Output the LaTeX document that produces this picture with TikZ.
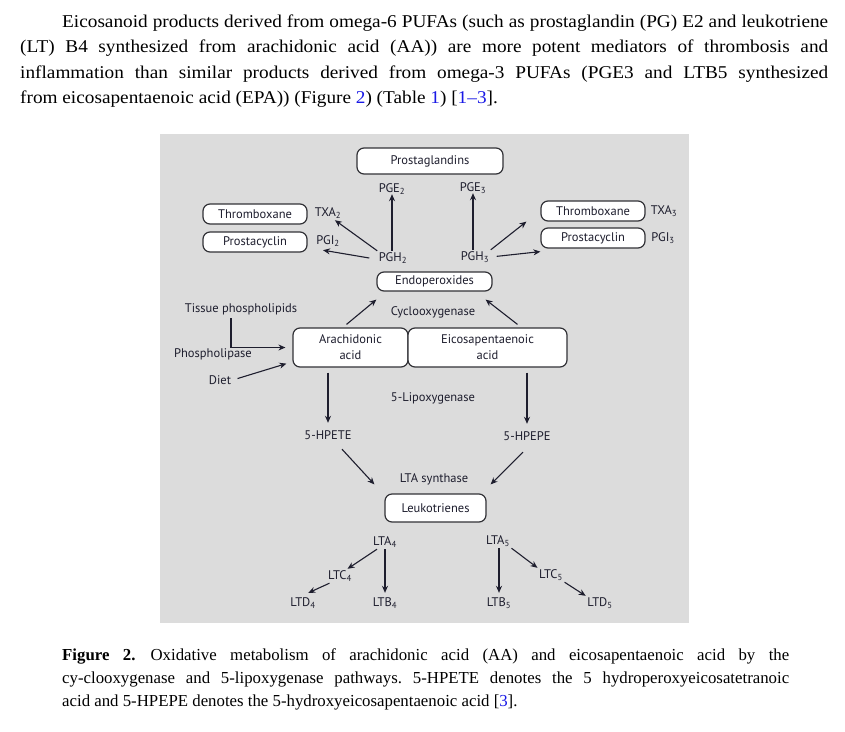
\documentclass[tikz,border=0pt]{standalone}
\usepackage{fontspec}
\setmainfont{Liberation Serif}
\newfontfamily\figfont{PT Sans}
\usepackage{tikz}
\usetikzlibrary{calc, arrows.meta}
\definecolor{panel}{RGB}{220, 220, 220}
\definecolor{ink}{RGB}{30, 30, 46}
\definecolor{frame}{RGB}{50, 50, 55}
\definecolor{link}{RGB}{25, 25, 230}
\newcommand{\lsub}[1]{\textsubscript{#1}}
\newcommand{\figsize}{\figfont\fontsize{12.5}{16}\selectfont}
\frenchspacing

\tikzset{
  pathway/.style={draw=frame, fill=white, rounded corners=7pt, line width=1.2pt,
    text=ink, font=\figsize, inner sep=0pt, align=center},
  lbl/.style={text=ink, font=\figsize, inner sep=1.5pt},
  flow/.style={->, >={Stealth[length=7pt, width=6pt]}, line width=1.1pt, draw=ink},
  prose/.style={anchor=north west, inner sep=0pt, align=justify}
}

\begin{document}
\begin{tikzpicture}[x=1pt, y=-1pt]

  \useasboundingbox (0, 0) rectangle (845, 731);
  \fill[white] (0, 0) rectangle (845, 731);

  % text above the figure
  \node[prose, text width=808, font=\fontsize{18}{25.5}\selectfont\addfontfeatures{FakeStretch=1.07}] (para) at (20, 14.5)
    {\hspace*{42pt}Eicosanoid products derived from omega-6 PUFAs (such as prostaglandin (PG) E2 and leukotriene\linebreak
     (LT) B4 synthesized from arachidonic acid (AA)) are more potent mediators of thrombosis and\linebreak
     inflammation than similar products derived from omega-3 PUFAs (PGE3 and LTB5 synthesized\linebreak
     from eicosapentaenoic acid (EPA)) (Figure~\textcolor{link}{2}) (Table~\textcolor{link}{1}) [\textcolor{link}{1--3}].};

  \fill[panel] (160, 134) rectangle (689, 623);

  % cyclooxygenase side
  \node[pathway, minimum width=146, minimum height=26] (prosta) at (430, 161) {Prostaglandins};
  \node[lbl] (pge2) at (392, 189) {PGE\lsub{2}};
  \node[lbl] (pge3) at (473, 188) {PGE\lsub{3}};

  \node[pathway, minimum width=104, minimum height=20] (thromboA) at (255, 214) {Thromboxane};
  \node[pathway, minimum width=104, minimum height=20] (prostacA) at (255, 242) {Prostacyclin};
  \node[lbl] (txa2) at (328, 213) {TXA\lsub{2}};
  \node[lbl] (pgi2) at (328, 241) {PGI\lsub{2}};
  \node[lbl] (pgh2) at (393, 258) {PGH\lsub{2}};

  \node[pathway, minimum width=104, minimum height=20] (thromboB) at (593, 211) {Thromboxane};
  \node[pathway, minimum width=104, minimum height=20] (prostacB) at (593, 238) {Prostacyclin};
  \node[lbl] (txa3) at (664, 211) {TXA\lsub{3}};
  \node[lbl] (pgi3) at (663, 238) {PGI\lsub{3}};
  \node[lbl] (pgh3) at (475, 257) {PGH\lsub{3}};

  \node[pathway, minimum width=115, minimum height=19] (endo) at (434.5, 281.5) {Endoperoxides};
  \node[lbl] (cox) at (433, 312) {Cyclooxygenase};

  % the two fatty acids
  \node[pathway, minimum width=115, minimum height=39] (aa) at (350.5, 347.5) {Arachidonic\\acid};
  \node[pathway, minimum width=159, minimum height=39] (epa) at (487.5, 347.5) {Eicosapentaenoic\\acid};
  \node[lbl] (tissue) at (241, 309) {Tissue phospholipids};
  \node[lbl] (plase) at (213, 354) {Phospholipase};
  \node[lbl] (diet) at (220, 380) {Diet};

  % lipoxygenase side
  \node[lbl] (lox) at (433, 398) {5-Lipoxygenase};
  \node[lbl] (hpete) at (328, 435) {5-HPETE};
  \node[lbl] (hpepe) at (527, 436) {5-HPEPE};
  \node[lbl] (ltas) at (434, 479) {LTA synthase};
  \node[pathway, minimum width=101, minimum height=28] (leuko) at (435.5, 508) {Leukotrienes};

  \node[lbl] (lta4) at (385, 542) {LTA\lsub{4}};
  \node[lbl] (ltc4) at (340, 576) {LTC\lsub{4}};
  \node[lbl] (ltd4) at (303, 603) {LTD\lsub{4}};
  \node[lbl] (ltb4) at (385, 603) {LTB\lsub{4}};
  \node[lbl] (lta5) at (498, 541) {LTA\lsub{5}};
  \node[lbl] (ltb5) at (499, 603) {LTB\lsub{5}};
  \node[lbl] (ltc5) at (551, 575) {LTC\lsub{5}};
  \node[lbl] (ltd5) at (600, 603) {LTD\lsub{5}};

  % arrows
  \draw[flow] (pge2.south |- pgh2.north) -- ([yshift=2pt]pge2.south);
  \draw[flow] (pgh2.north west) -- ([xshift=-8pt]txa2.south east);
  \draw[flow] ([xshift=-8pt]pgh2.west) -- ([xshift=-5pt, yshift=-2pt]pgi2.south);
  \draw[flow] (pge3.south |- pgh3.north) -- ([yshift=2pt]pge3.south);
  \draw[flow] (pgh3.north east) -- ([xshift=-14pt]thromboB.south west);
  \draw[flow, shorten <=6pt] (pgh3.east) -- ([yshift=-3pt]prostacB.south west);

  \draw[flow] ([xshift=-4pt, yshift=3pt]aa.north) -- ([yshift=-8pt]endo.south west);
  \draw[flow] ([xshift=30pt, yshift=3pt]epa.north) -- ([xshift=-7pt, yshift=-8pt]endo.south east);
  \draw[flow] ([xshift=-10pt, yshift=-2pt]tissue.south) |- ([xshift=-7pt]aa.west);
  \draw[flow, shorten <=5pt] (diet.east) -- ([xshift=-6pt, yshift=4pt]aa.south west);

  \draw[flow] (hpete.north |- aa.south) ++(0, 5) -- ([yshift=6pt]hpete.north);
  \draw[flow] (hpepe.north |- epa.south) ++(0, 5) -- ([yshift=6pt]hpepe.north);
  \draw[flow] ([xshift=14pt, yshift=-8pt]hpete.south) -- ([xshift=-10pt, yshift=9pt]leuko.north west);
  \draw[flow] ([xshift=-4pt, yshift=-10pt]hpepe.south) -- ([xshift=4pt, yshift=9pt]leuko.north east);

  \draw[flow] ([xshift=-8pt]lta4.south) -- ([xshift=-6pt]ltc4.north east);
  \draw[flow] ([xshift=3pt]ltc4.south west) -- ([xshift=-9pt, yshift=3pt]ltd4.north east);
  \draw[flow] (ltb4.north |- lta4.south) -- ([yshift=3pt]ltb4.north);
  \draw[flow] (ltb5.north |- lta5.south) -- ([yshift=3pt]ltb5.north);
  \draw[flow] (lta5.south east) -- (ltc5.north west);
  \draw[flow] (ltc5.south east) -- (ltd5.north west);

  % caption
  \node[prose, text width=727, font=\fontsize{16.8}{23}\selectfont] (caption) at (62, 648.5)
    {\textbf{Figure 2.}\hspace*{0.9em}Oxidative metabolism of arachidonic acid (AA) and eicosapentaenoic acid by the\linebreak
     cy-clooxygenase and 5-lipoxygenase pathways. 5-HPETE denotes the 5 hydroperoxyeicosatetranoic\linebreak
     acid and 5-HPEPE denotes the 5-hydroxyeicosapentaenoic acid [\textcolor{link}{3}].};

\end{tikzpicture}
\end{document}
